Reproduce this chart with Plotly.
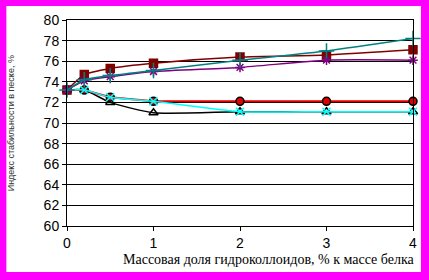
import plotly.graph_objects as go

x_vals = [0, 0.2, 0.5, 1, 2, 3, 4]
maroon_vals = [73.2, 74.7, 75.3, 75.8, 76.4, 76.6, 77.1]
teal_vals = [73.2, 74.2, 74.6, 75.1, 76.1, 77.0, 78.2]
purple_vals = [73.2, 74.1, 74.5, 75.0, 75.4, 76.1, 76.1]
red_vals = [73.2, 73.2, 72.5, 72.1, 72.1, 72.1, 72.1]
cyan_vals = [73.2, 73.2, 72.5, 72.1, 71.1, 71.1, 71.1]
black_vals = [73.2, 73.2, 72.0, 71.0, 71.1, 71.1, 71.1]

y_ticks = [60, 62, 64, 66, 68, 70, 72, 74, 76, 78, 80]
x_ticks = [0, 1, 2, 3, 4]
x_title = "Массовая доля гидроколлоидов, % к массе белка"
y_title = "Индекс стабильности в песке, %"

fig = go.Figure()

def add(vals, color, symbol, size, lw=1.5, mline=None, mfill=None, shape="spline"):
    fig.add_trace(go.Scatter(
        x=x_vals, y=vals, mode="lines+markers",
        line=dict(color=color, width=lw, shape=shape, smoothing=0.6),
        marker=dict(symbol=symbol, size=size, color=mfill or color,
                    line=dict(color=mline or color, width=1.5)),
        cliponaxis=False, showlegend=False))

add(black_vals, "black", "triangle-up-open", 8, lw=1.5)
add(red_vals, "#E00000", "circle", 8, lw=2, mline="black", shape="linear")
add(cyan_vals, "#00FFFF", "x-thin-open", 8, lw=1.5, mline="#00C8C8")
add(maroon_vals, "#800000", "square", 8, lw=1.5)
add(purple_vals, "#800080", "asterisk-open", 8, lw=1.5)
add(teal_vals, "#008080", "cross-thin-open", 11, lw=1.5)

L, R, T, B = 67, 14, 20, 54
W, H = 429, 280
pw, ph = W - L - R, H - T - B

fig.update_layout(
    width=W, height=H,
    margin=dict(l=L, r=R, t=T, b=B),
    paper_bgcolor="#FF00FF",
    plot_bgcolor="white",
    font=dict(family="Liberation Sans, Arial", size=14, color="black"),
    shapes=[dict(type="rect", xref="paper", yref="paper",
                 x0=(6 - L) / pw, x1=(423 - L) / pw,
                 y0=(H - B - 272) / ph, y1=(H - B - 6) / ph,
                 fillcolor="white", line=dict(width=0), layer="below")],
    annotations=[
        dict(text=x_title, xref="paper", yref="paper",
             x=(418 - L) / pw, y=(H - B - 259) / ph,
             xanchor="right", yanchor="middle", showarrow=False,
             font=dict(family="Liberation Serif, Times New Roman", size=14)),
        dict(text=y_title, xref="paper", yref="paper",
             x=(11 - L) / pw, y=(H - B - 123) / ph, textangle=-90,
             xanchor="center", yanchor="middle", showarrow=False,
             font=dict(family="Liberation Sans, Arial", size=9, color="#333333")),
    ],
)
fig.update_xaxes(range=[0, 4], tickvals=x_ticks, ticks="outside", ticklen=4,
                 tickcolor="black", showline=True, linecolor="black", linewidth=1,
                 mirror=True, showgrid=False, zeroline=False)
fig.update_yaxes(range=[60, 80], tickvals=y_ticks, ticks="outside", ticklen=4,
                 tickcolor="black", showline=True, linecolor="black", linewidth=1,
                 mirror=True, showgrid=True, gridcolor="black", gridwidth=1,
                 zeroline=False)

fig.write_html("out.html")
